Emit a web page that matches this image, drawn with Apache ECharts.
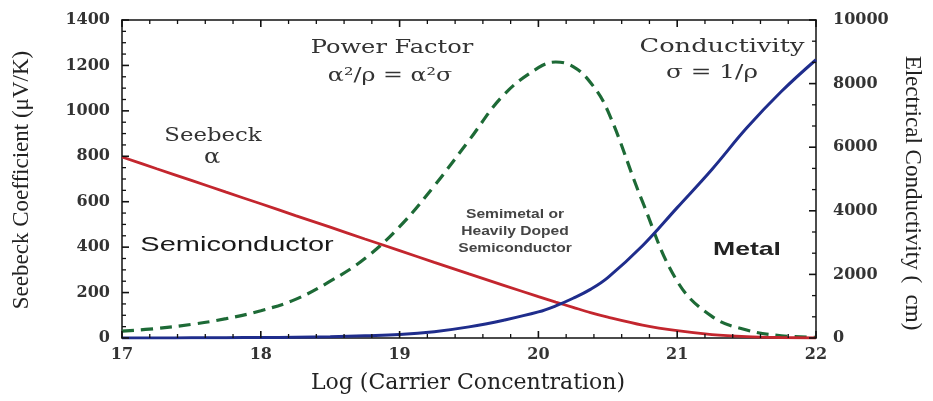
<!DOCTYPE html>
<html><head><meta charset="utf-8">
<script src="https://cdn.jsdelivr.net/npm/echarts@6/dist/echarts.min.js"></script>
<style>html,body{margin:0;padding:0;background:#fff}#c{width:933px;height:401px}</style>
</head><body><div id="c"></div>
<script>
// Log(carrier concentration)
const logN = [17, 17.25, 17.5, 17.75, 18, 18.25, 18.5, 18.75, 19, 19.25, 19.5, 19.75, 20, 20.125, 20.25, 20.375, 20.5, 20.75, 21, 21.25, 21.5, 21.75, 22];
// Seebeck coefficient (µV/K) - left axis
const seebeck = [797, 745, 694, 642, 591, 539, 488, 436, 385, 333, 282, 232, 182, 158, 135, 112, 92, 57, 32, 15, 6, 2, 0];
// Electrical conductivity - right axis
const conductivity = [0, 0, 5, 10, 15, 25, 40, 70, 110, 200, 350, 560, 820, 1010, 1250, 1530, 1900, 2900, 4100, 5300, 6600, 7750, 8750];
// Power factor (arbitrary units, drawn on left scale)
const powerFactor = [30, 42, 60, 85, 120, 170, 250, 350, 490, 670, 870, 1070, 1190, 1215, 1195, 1125, 1000, 600, 250, 95, 35, 10, 3];

// Axis tick settings
const leftTicks = {min: 0, max: 1400, interval: 200};
const rightTicks = {min: 0, max: 10000, interval: 2000};
const xTicks = {min: 17, max: 22, interval: 1};
const xMinorSplit = 5, leftMinorSplit = 4, rightMinorSplit = 3;

const pairs = arr => logN.map((x, i) => [x, arr[i]]);

// tick positions derived from axis settings: [value, 0, isMajor]
function tickList(t, split) {
  const out = [];
  const n = Math.round((t.max - t.min) / t.interval);
  for (let i = 0; i <= n * split; i++) {
    out.push([t.min + i * t.interval / split, 0, i % split === 0 ? 1 : 0]);
  }
  return out;
}

const TICK_COLOR = '#111';
function seg(x1, y1, x2, y2, major) {
  return {type: 'line', shape: {x1, y1, x2, y2}, style: {stroke: TICK_COLOR, lineWidth: major ? 1.6 : 1.3}};
}
function xTickItem(params, api) {
  const v = api.value(0), major = api.value(2), len = major ? 7 : 4;
  const b = api.coord([v, leftTicks.min]), t = api.coord([v, leftTicks.max]);
  return {type: 'group', children: [seg(b[0], b[1], b[0], b[1] - len, major), seg(t[0], t[1], t[0], t[1] + len, major)]};
}
function leftTickItem(params, api) {
  const v = api.value(0), major = api.value(2), len = major ? 7 : 4;
  const p = api.coord([xTicks.min, v]);
  return seg(p[0], p[1], p[0] + len, p[1], major);
}
function rightTickItem(params, api) {
  const v = api.value(0), major = api.value(2), len = major ? 7 : 4;
  const p = api.coord([xTicks.max, v]);
  return seg(p[0], p[1], p[0] - len, p[1], major);
}

const labelFont = () => ({fontFamily: 'DejaVu Serif', fontSize: 16, fontWeight: 'bold', color: '#333', formatter: v => String(v)});
const axisLine = () => ({show: true, onZero: false, lineStyle: {color: '#111', width: 1.5}});

const option = {
  animation: false,
  grid: {left: 122, right: 117, top: 20, bottom: 63},
  xAxis: [
    {type: 'value', ...xTicks, position: 'bottom', axisLine: axisLine(), axisTick: {show: false}, splitLine: {show: false},
     axisLabel: Object.assign(labelFont(), {margin: 9})},
    {type: 'value', ...xTicks, position: 'top', axisLine: axisLine(), axisTick: {show: false}, splitLine: {show: false}, axisLabel: {show: false}}
  ],
  yAxis: [
    {type: 'value', ...leftTicks, position: 'left', axisLine: axisLine(), axisTick: {show: false}, splitLine: {show: false},
     axisLabel: Object.assign(labelFont(), {margin: 12})},
    {type: 'value', ...rightTicks, position: 'right', axisLine: axisLine(), axisTick: {show: false}, splitLine: {show: false},
     axisLabel: Object.assign(labelFont(), {margin: 17})}
  ],
  series: [{
    name: 'Power Factor', type: 'line', yAxisIndex: 0, smooth: 0.4, symbol: 'none',
    data: pairs(powerFactor),
    lineStyle: {color: '#1d6a36', width: 3.2, type: [12, 7]}
  }, {
    name: 'Seebeck', type: 'line', yAxisIndex: 0, smooth: 0.3, symbol: 'none',
    data: pairs(seebeck),
    lineStyle: {color: '#c3262e', width: 2.8}
  }, {
    name: 'Conductivity', type: 'line', yAxisIndex: 1, smooth: 0.4, symbol: 'none',
    data: pairs(conductivity),
    lineStyle: {color: '#1f2d8c', width: 3}
  }, {
    name: 'xTicks', type: 'custom', xAxisIndex: 0, yAxisIndex: 0, renderItem: xTickItem,
    data: tickList(xTicks, xMinorSplit), encode: {x: 0}, clip: false, silent: true, z: 10
  }, {
    name: 'leftTicks', type: 'custom', xAxisIndex: 0, yAxisIndex: 0, renderItem: leftTickItem,
    data: tickList(leftTicks, leftMinorSplit), encode: {y: 0}, clip: false, silent: true, z: 10
  }, {
    name: 'rightTicks', type: 'custom', xAxisIndex: 0, yAxisIndex: 1, renderItem: rightTickItem,
    data: tickList(rightTicks, rightMinorSplit), encode: {y: 0}, clip: false, silent: true, z: 10
  }],
  graphic: [
    {type: 'text', x: 22, y: 180, rotation: Math.PI / 2, style: {text: 'Seebeck Coefficient (μV/K)', font: '23px "Liberation Serif"', fill: '#222', textAlign: 'center', textVerticalAlign: 'middle'}},
    {type: 'text', x: 912, y: 193, rotation: -Math.PI / 2, style: {text: 'Electrical Conductivity (  cm)', font: '23px "Liberation Serif"', fill: '#222', textAlign: 'center', textVerticalAlign: 'middle'}},
    {type: 'text', x: 468, y: 383, style: {text: 'Log (Carrier Concentration)', font: '22px "DejaVu Serif"', fill: '#222', textAlign: 'center', textVerticalAlign: 'middle'}},
    {type: 'text', x: 392, y: 48, scaleX: 1.27, style: {text: 'Power Factor', font: '19px "DejaVu Serif"', fill: '#333', textAlign: 'center', textVerticalAlign: 'middle'}},
    {type: 'text', x: 390, y: 76, scaleX: 1.25, style: {text: 'α²/ρ = α²σ', font: '19px "DejaVu Serif"', fill: '#333', textAlign: 'center', textVerticalAlign: 'middle'}},
    {type: 'text', x: 722, y: 47, scaleX: 1.35, style: {text: 'Conductivity', font: '19px "DejaVu Serif"', fill: '#333', textAlign: 'center', textVerticalAlign: 'middle'}},
    {type: 'text', x: 712, y: 73, scaleX: 1.3, style: {text: 'σ = 1/ρ', font: '19px "DejaVu Serif"', fill: '#333', textAlign: 'center', textVerticalAlign: 'middle'}},
    {type: 'text', x: 213, y: 136, scaleX: 1.2, style: {text: 'Seebeck', font: '19px "DejaVu Serif"', fill: '#333', textAlign: 'center', textVerticalAlign: 'middle'}},
    {type: 'text', x: 212, y: 158, scaleX: 1.2, style: {text: 'α', font: '20px "DejaVu Serif"', fill: '#333', textAlign: 'center', textVerticalAlign: 'middle'}},
    {type: 'text', x: 237, y: 245, scaleX: 1.38, style: {text: 'Semiconductor', font: '500 21px "Liberation Sans"', fill: '#1a1a1a', textAlign: 'center', textVerticalAlign: 'middle'}},
    {type: 'text', x: 515, y: 215, scaleX: 1.3, style: {text: 'Semimetal or', font: 'bold 12px "Liberation Sans"', fill: '#444', textAlign: 'center', textVerticalAlign: 'middle'}},
    {type: 'text', x: 515, y: 232, scaleX: 1.3, style: {text: 'Heavily Doped', font: 'bold 12px "Liberation Sans"', fill: '#444', textAlign: 'center', textVerticalAlign: 'middle'}},
    {type: 'text', x: 515, y: 249, scaleX: 1.3, style: {text: 'Semiconductor', font: 'bold 12px "Liberation Sans"', fill: '#444', textAlign: 'center', textVerticalAlign: 'middle'}},
    {type: 'text', x: 747, y: 250, scaleX: 1.4, style: {text: 'Metal', font: 'bold 19px "Liberation Sans"', fill: '#222', textAlign: 'center', textVerticalAlign: 'middle'}}
  ]
};

const chart = echarts.init(document.getElementById('c'));
chart.setOption(option);
</script></body></html>
